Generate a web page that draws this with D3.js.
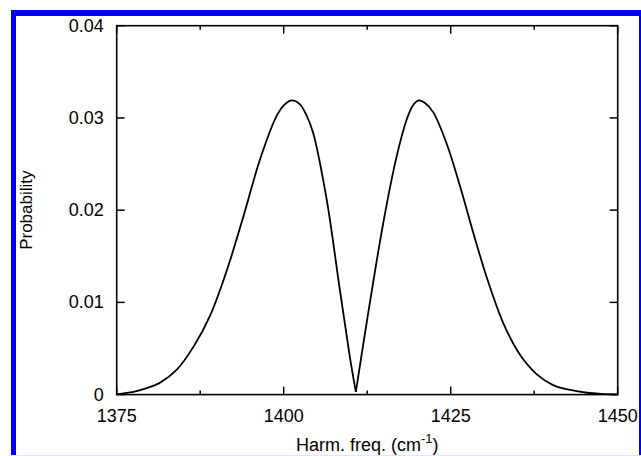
<!DOCTYPE html>
<html>
<head>
<meta charset="utf-8">
<script src="https://cdn.jsdelivr.net/npm/d3@7"></script>
<style>
  html, body { margin: 0; padding: 0; background: #fff; }
  svg { display: block; }
  text { font-family: "Liberation Sans", Arial, Helvetica, sans-serif; fill: #000; }
</style>
</head>
<body>
<svg id="chart" width="641" height="456"></svg>
<script>
// Harmonic frequency distribution (cm^-1) and its probability
const freq = [1375, 1377.5, 1379.5, 1381.5, 1384.0, 1386.5, 1389.0, 1391.5, 1394.0, 1396.5,
  1399.0, 1400.2, 1401.2, 1402.4, 1403.4, 1404.4, 1406.4, 1408.4, 1409.9, 1410.8,
  1412.4, 1414.9, 1416.9, 1418.4, 1419.3, 1420.2, 1421.2, 1422.4, 1424.4, 1426.4,
  1428.4, 1430.4, 1432.9, 1435.4, 1437.9, 1440.4, 1442.9, 1445.4, 1447.5, 1450];
const prob = [0.00005, 0.0003, 0.0007, 0.0013, 0.0027, 0.0052, 0.0086, 0.0135, 0.0194, 0.0256,
  0.0303, 0.0315, 0.0319, 0.0315, 0.0303, 0.0284, 0.0213, 0.0114, 0.0041, 0.0003,
  0.0077, 0.0186, 0.0258, 0.0298, 0.0313, 0.0319, 0.0316, 0.0306, 0.0272, 0.0226,
  0.0175, 0.0127, 0.0077, 0.0043, 0.0022, 0.0010, 0.0005, 0.0002, 0.00008, 0.00003];
// Index of the sharp minimum between the two lobes
const dipIndex = 19;

const xMajorTicks = [1375, 1400, 1425, 1450];
const xMinorTicks = [1387.5, 1412.5, 1437.5];
const yTicks = [0, 0.01, 0.02, 0.03, 0.04];
const yTickLabels = ["0", "0.01", "0.02", "0.03", "0.04"];

const svg = d3.select("#chart");
const plot = { left: 116.7, right: 617.7, top: 25.7, bottom: 394.6 };

const x = d3.scaleLinear().domain([1375, 1450]).range([plot.left, plot.right]);
const y = d3.scaleLinear().domain([0, 0.04]).range([plot.bottom, plot.top]);

// Inward ticks on all four sides
const majorLen = 8, minorLen = 4;
const tickG = svg.append("g").attr("stroke", "#000").attr("stroke-width", 1.5);
xMajorTicks.concat(xMinorTicks).forEach(v => {
  const len = xMajorTicks.includes(v) ? majorLen : minorLen;
  tickG.append("line").attr("x1", x(v)).attr("x2", x(v))
    .attr("y1", plot.bottom).attr("y2", plot.bottom - len);
  tickG.append("line").attr("x1", x(v)).attr("x2", x(v))
    .attr("y1", plot.top).attr("y2", plot.top + len);
});
yTicks.forEach(v => {
  tickG.append("line").attr("x1", plot.left).attr("x2", plot.left + majorLen)
    .attr("y1", y(v)).attr("y2", y(v));
  tickG.append("line").attr("x1", plot.right).attr("x2", plot.right - majorLen)
    .attr("y1", y(v)).attr("y2", y(v));
});

// Tick labels
svg.append("g").selectAll("text").data(xMajorTicks).join("text")
  .attr("x", d => x(d)).attr("y", 422)
  .attr("text-anchor", "middle").attr("font-size", 18)
  .text(d => d);
svg.append("g").selectAll("text").data(yTicks).join("text")
  .attr("x", plot.left - 13).attr("y", d => y(d) + 6)
  .attr("text-anchor", "end").attr("font-size", 18)
  .text((d, i) => yTickLabels[i]);

// Probability curve: two smooth lobes meeting at a cusp
const pts = freq.map((f, i) => [f, prob[i]]);
const line = d3.line()
  .x(d => x(d[0]))
  .y(d => y(d[1]))
  .curve(d3.curveCatmullRom.alpha(0.5));
[pts.slice(0, dipIndex + 1), pts.slice(dipIndex)].forEach(seg => {
  svg.append("path").datum(seg)
    .attr("d", line)
    .attr("fill", "none").attr("stroke", "#000").attr("stroke-width", 1.8)
    .attr("stroke-linejoin", "round");
});

// Plot frame
svg.append("rect")
  .attr("x", plot.left).attr("y", plot.top)
  .attr("width", plot.right - plot.left).attr("height", plot.bottom - plot.top)
  .attr("fill", "none").attr("stroke", "#000").attr("stroke-width", 1.6);

// Axis titles
const xt = svg.append("text")
  .attr("x", (plot.left + plot.right) / 2).attr("y", 451)
  .attr("text-anchor", "middle").attr("font-size", 18);
xt.append("tspan").text("Harm. freq. (cm");
xt.append("tspan").attr("dy", -8).attr("font-size", 13).text("-1");
xt.append("tspan").attr("dy", 8).text(")");

svg.append("text")
  .attr("transform", `translate(32, ${(plot.top + plot.bottom) / 2}) rotate(-90)`)
  .attr("text-anchor", "middle").attr("font-size", 17)
  .text("Probability");

// Blue surround
const border = svg.append("g").attr("fill", "#0000ee");
border.append("rect").attr("x", 11).attr("y", 10).attr("width", 5).attr("height", 446);
border.append("rect").attr("x", 11).attr("y", 10).attr("width", 630).attr("height", 6);
border.append("rect").attr("x", 639).attr("y", 10).attr("width", 2).attr("height", 446);
svg.append("rect").attr("x", 11).attr("y", 455).attr("width", 630).attr("height", 1)
  .attr("fill", "#e4e4fb");
</script>
</body>
</html>
